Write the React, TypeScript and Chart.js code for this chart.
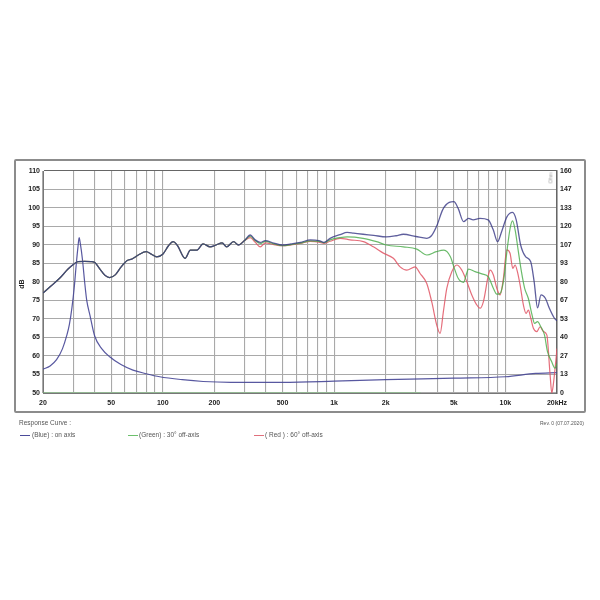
import React, { useEffect, useRef } from "react";
import { Chart, registerables } from "chart.js";
Chart.register(...registerables);

// Shared low-frequency part of the three SPL curves (Hz / dB)
const commonFreq = [20, 22, 25, 28, 30, 32, 35, 38, 40, 43, 46, 49, 53, 57, 62, 66, 72, 80, 86, 92, 100, 108, 115, 122, 135, 145, 158, 172, 189, 205, 222, 236, 259, 277, 300];
const commonSpl = [77, 78.7, 81, 83.5, 84.7, 85.5, 85.6, 85.5, 85.3, 83.5, 81.8, 81.2, 82, 84, 85.8, 86.2, 87.3, 88.2, 87.5, 86.8, 87.5, 89.8, 90.9, 89.8, 86.4, 88.6, 88.6, 90.3, 89.5, 90, 90.6, 89.5, 90.9, 90, 91.2];

// Blue: on axis
const blueFreq = [324, 346, 371, 397, 445, 499, 560, 636, 728, 815, 872, 947, 1084, 1192, 1300, 1476, 1700, 2018, 2300, 2535, 3000, 3481, 3700, 4000, 4300, 4700, 5000, 5300, 5700, 6090, 6480, 7100, 7930, 8490, 9000, 9500, 10200, 11000, 11560, 12270, 13140, 14050, 14710, 15400, 16130, 17100, 18050, 19320, 20000];
const blueSpl = [92.7, 91.4, 90.7, 91.2, 90.5, 90, 90.3, 90.7, 91.4, 91.2, 90.7, 91.8, 92.8, 93.4, 93.2, 92.9, 92.6, 92.2, 92.5, 92.9, 92.3, 91.8, 92.5, 95.5, 99.5, 101.5, 101.7, 99.9, 96.3, 97.2, 96.8, 97.2, 96.8, 94.1, 90.9, 93.6, 97.6, 98.8, 96.8, 90, 86.8, 85.5, 80.1, 73, 76.5, 75.6, 72.9, 70.2, 69.5];

// Green: 30° off-axis
const greenFreq = [324, 346, 371, 397, 445, 499, 560, 636, 728, 815, 872, 947, 1084, 1192, 1476, 1770, 2018, 2535, 3040, 3481, 3950, 4380, 4774, 5000, 5300, 5700, 5900, 6090, 6650, 7290, 7950, 8500, 8900, 9300, 9800, 10200, 10650, 11000, 11400, 11900, 12400, 12950, 13600, 14300, 14800, 15400, 16100, 16900, 17600, 18600, 19500, 20000];
const greenSpl = [92.4, 91.2, 90.4, 91, 90.3, 89.8, 90.1, 90.5, 91.1, 91, 90.6, 91.4, 92, 92.2, 91.8, 90.9, 90, 89.5, 88.9, 87.3, 88.2, 88.6, 86.8, 84.1, 81, 79.9, 81.9, 83.5, 82.8, 82.2, 81.4, 78.3, 76.7, 76.9, 81, 88.2, 94.5, 96.5, 94, 88.2, 82.8, 78.3, 75.6, 71.1, 68.8, 69.3, 67.9, 65.7, 61.2, 58.5, 56.7, 58];

// Red: 60° off-axis
const redFreq = [324, 346, 371, 397, 445, 499, 560, 636, 728, 815, 872, 947, 1084, 1239, 1482, 1696, 1939, 2218, 2428, 2657, 2970, 3176, 3475, 3716, 3976, 4157, 4344, 4547, 4864, 5203, 5564, 5950, 6364, 6805, 7114, 7438, 7956, 8138, 8506, 8906, 9310, 9732, 10186, 10648, 11042, 11388, 11746, 12178, 12730, 13200, 13616, 14062, 14562, 15244, 15934, 16660, 17440, 18230, 18648, 19000, 19496, 20000];
const redSpl = [92, 90.8, 89.5, 90.6, 90.1, 89.8, 90, 90.4, 91, 90.8, 90.4, 91, 91.8, 91.4, 90.9, 89.5, 87.8, 86.4, 84.1, 83.2, 84.1, 82.3, 79.6, 74.6, 68.3, 66.1, 72, 78.3, 82.8, 84.6, 83.2, 80.1, 76.5, 73.8, 72.9, 74.7, 81.9, 83.2, 81.9, 78.3, 76.5, 81, 88.7, 87.7, 83.7, 84.6, 82.8, 79.2, 73.8, 71.5, 72.4, 70.2, 67.5, 66.6, 67.9, 66.6, 65.7, 54.9, 50, 52, 56.7, 62];

// Impedance curve (right axis)
const impFreq = [20, 22, 24, 26, 27.5, 28.5, 29.5, 30.5, 31.3, 32, 32.5, 33, 34, 35, 36, 37.6, 40, 44, 49, 57, 67, 80, 96, 130, 172, 250, 500, 1000, 2000, 5000, 10000, 15000, 20000];
const impOhm = [17.1, 19.5, 24, 32, 41.3, 49.3, 61.3, 77.3, 93.3, 105.3, 112, 108, 96, 80, 66.7, 56, 41.3, 32, 26.1, 20.5, 16.5, 13.9, 11.7, 9.6, 8.3, 7.7, 7.7, 8.5, 9.6, 10.7, 11.7, 14.1, 14.7];

// Flat green trace along the bottom edge
const baseFreq = [20, 3200];
const baseSpl = [50, 50];

const xTickValues = [20, 30, 40, 50, 60, 70, 80, 90, 100, 200, 300, 400, 500, 600, 700, 800, 900, 1000, 2000, 3000, 4000, 5000, 6000, 7000, 8000, 9000, 10000, 20000];
const xTickLabels: Record<number, string> = { 20: "20", 50: "50", 100: "100", 200: "200", 500: "500", 1000: "1k", 2000: "2k", 5000: "5k", 10000: "10k", 20000: "20kHz" };
const rightTickLabels = [0, 13, 27, 40, 53, 67, 80, 93, 107, 120, 133, 147, 160];

const FONT = "'Liberation Sans', Arial, sans-serif";

function pts(f: number[], v: number[]) {
  return f.map((x, i) => ({ x, y: v[i] }));
}

export default function App() {
  const ref = useRef<HTMLCanvasElement | null>(null);
  useEffect(() => {
    if (!ref.current) return;
    const tickFont = { family: FONT, size: 7, weight: "bold" as const };
    const chart = new Chart(ref.current, {
      type: "line",
      data: {
        datasets: [
          { label: "blue", data: pts([...commonFreq, ...blueFreq], [...commonSpl, ...blueSpl]), borderColor: "rgba(50,50,130,0.78)", borderWidth: 1.3, yAxisID: "y" },
          { label: "green", data: pts([...commonFreq, ...greenFreq], [...commonSpl, ...greenSpl]), borderColor: "rgba(70,170,70,0.8)", borderWidth: 1.2, yAxisID: "y" },
          { label: "red", data: pts([...commonFreq, ...redFreq], [...commonSpl, ...redSpl]), borderColor: "rgba(225,85,100,0.85)", borderWidth: 1.2, yAxisID: "y" },
          { label: "imp", data: pts(impFreq, impOhm), borderColor: "rgba(70,70,150,0.9)", borderWidth: 1.2, yAxisID: "y2" },
          { label: "base", data: pts(baseFreq, baseSpl), borderColor: "rgba(120,200,120,0.9)", borderWidth: 1.2, yAxisID: "y" },
        ],
      },
      options: {
        animation: false,
        responsive: false,
        maintainAspectRatio: false,
        parsing: true,
        elements: { point: { radius: 0 }, line: { cubicInterpolationMode: "monotone", fill: false } },
        layout: { padding: { top: 171, left: 0, right: 0, bottom: 0 } },
        plugins: { legend: { display: false }, tooltip: { enabled: false } },
        scales: {
          x: {
            type: "logarithmic",
            min: 20,
            max: 20000,
            afterBuildTicks: (s: any) => {
              s.ticks = xTickValues.map((v) => ({ value: v }));
            },
            afterFit: (s: any) => {
              s.height = 207;
            },
            ticks: {
              autoSkip: false,
              maxRotation: 0,
              padding: 6,
              color: "#222",
              font: tickFont,
              callback: (v: any) => xTickLabels[Number(v)] ?? "",
            },
            grid: {
              drawTicks: false,
              color: (c: any) => (c.tick && c.tick.value === 20000 ? "#666" : "#a9a9a9"),
              lineWidth: 1.1,
            },
            border: { display: true, color: "#777", width: 1 },
          },
          y: {
            type: "linear",
            position: "left",
            min: 50,
            max: 110,
            afterFit: (s: any) => {
              s.width = 43;
            },
            ticks: { stepSize: 5, padding: 3, color: "#222", font: tickFont },
            grid: {
              drawTicks: false,
              color: (c: any) => (c.tick && c.tick.value === 110 ? "#666" : "#a9a9a9"),
              lineWidth: 1.1,
            },
            border: { display: true, color: "#777", width: 1 },
          },
          y2: {
            type: "linear",
            position: "right",
            min: 0,
            max: 160,
            afterBuildTicks: (s: any) => {
              s.ticks = rightTickLabels.map((_, i) => ({ value: (i * 160) / 12 }));
            },
            afterFit: (s: any) => {
              s.width = 43;
            },
            ticks: {
              padding: 3,
              color: "#222",
              font: tickFont,
              callback: (_v: any, i: number) => String(rightTickLabels[i]),
            },
            grid: { drawOnChartArea: false, drawTicks: false },
            border: { display: true, color: "#666", width: 1.5 },
          },
        },
      },
    });
    return () => chart.destroy();
  }, []);

  const txt: React.CSSProperties = { position: "absolute", fontFamily: FONT, fontSize: 6.5, color: "#555", whiteSpace: "nowrap", lineHeight: "8px" };
  const swatch = (color: string, left: number): React.CSSProperties => ({ position: "absolute", left, top: 435, width: 10, height: 0, borderTop: `1.2px solid ${color}` });

  return (
    <div style={{ position: "fixed", left: 0, top: 0, width: 600, height: 600, background: "#fff", overflow: "hidden" }}>
      <div style={{ position: "absolute", left: 14, top: 159, width: 568, height: 250, border: "2px solid #8c8c8c", borderRadius: 2 }} />
      <canvas ref={ref} width={600} height={600} style={{ position: "absolute", left: 0, top: 0, width: 600, height: 600 }} />
      <div style={{ ...txt, left: 17, top: 280, fontWeight: "bold", fontSize: 7, color: "#222", transform: "rotate(-90deg)" }}>dB</div>
      <div style={{ ...txt, left: 545, top: 174, fontSize: 5, color: "#999", transform: "rotate(-90deg)" }}>Ohm</div>
      <div style={{ ...txt, left: 19, top: 419 }}>Response Curve :</div>
      <div style={swatch("#4b4b9a", 20)} />
      <div style={{ ...txt, left: 32, top: 431 }}>(Blue) : on axis</div>
      <div style={swatch("#6cc06c", 128)} />
      <div style={{ ...txt, left: 139, top: 431 }}>(Green) : 30° off-axis</div>
      <div style={swatch("#e0707c", 254)} />
      <div style={{ ...txt, left: 265, top: 431 }}>( Red ) : 60° off-axis</div>
      <div style={{ ...txt, left: 540, top: 419, fontSize: 5 }}>Rev. 0 (07.07.2020)</div>
    </div>
  );
}
